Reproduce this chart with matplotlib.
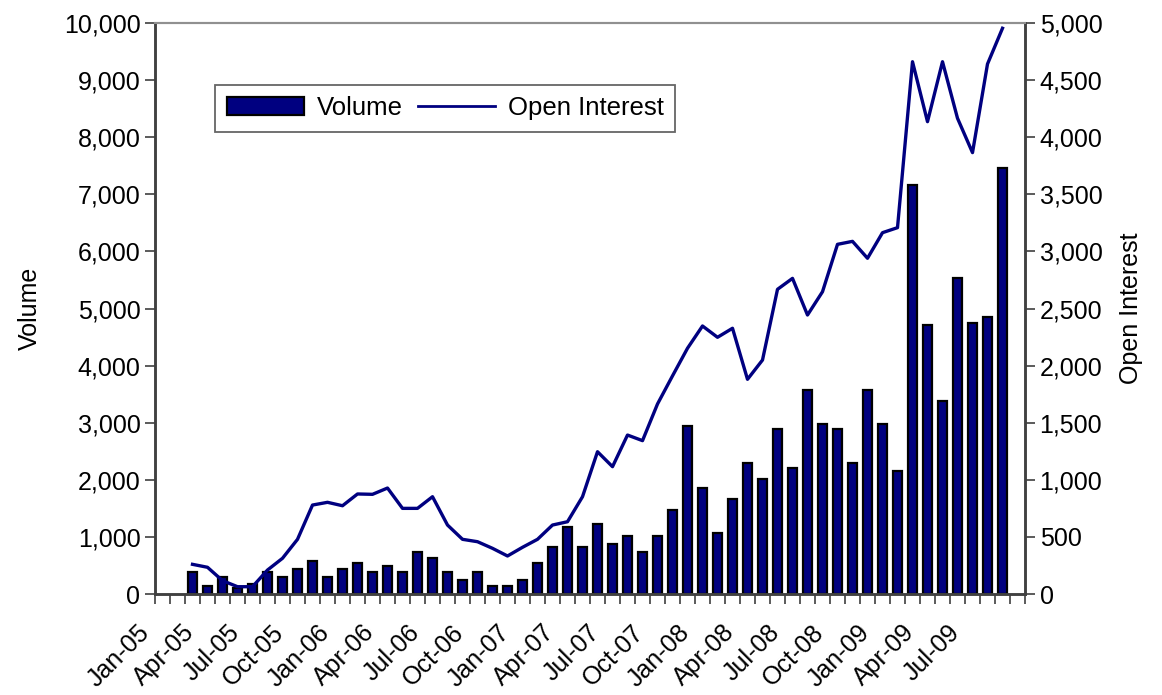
import numpy as np
import matplotlib
matplotlib.use('Agg')
import matplotlib.pyplot as plt
from matplotlib.ticker import FuncFormatter
from matplotlib.transforms import ScaledTranslation
from matplotlib.patches import Patch
from matplotlib.lines import Line2D

plt.rcParams['font.family'] = ['Liberation Sans', 'DejaVu Sans']

# monthly categories Jan-05 .. Oct-09
months = ['Jan', 'Feb', 'Mar', 'Apr', 'May', 'Jun', 'Jul', 'Aug', 'Sep', 'Oct', 'Nov', 'Dec']
categories = ['%s-%02d' % (months[i % 12], 5 + i // 12) for i in range(58)]

# data Mar-05 .. Sep-09 (first two and last months empty)
volume = [None, None,
          390, 140, 290, 100, 170, 390, 290, 440, 580, 290,
          440, 535, 390, 490, 390, 730, 630, 390, 245, 390,
          140, 140, 245, 535, 830, 1170, 830, 1220, 875, 1020,
          730, 1020, 1465, 2940, 1860, 1070, 1660, 2300, 2010, 2895,
          2200, 3570, 2980, 2890, 2300, 3570, 2980, 2150, 7160, 4710,
          3380, 5540, 4750, 4855, 7455,
          None]
open_interest = [None, None,
                 260, 234, 117, 64, 64, 210, 313, 479, 779, 803,
                 773, 876, 873, 928, 750, 750, 852, 604, 479, 458,
                 400, 333, 409, 479, 604, 633, 852, 1246, 1115, 1392,
                 1343, 1664, 1910, 2152, 2347, 2248, 2327, 1880, 2049, 2668,
                 2764, 2443, 2647, 3062, 3088, 2940, 3164, 3208, 4661, 4136,
                 4661, 4166, 3865, 4641, 4954,
                 None]

x = np.arange(len(categories))
vol = np.array([np.nan if v is None else v for v in volume], dtype=float)
oi = np.array([np.nan if v is None else v for v in open_interest], dtype=float)

navy = '#000080'
fig = plt.figure(figsize=(11.62, 6.95), dpi=100)
ax = fig.add_axes([0.1334, 0.1453, 0.7487, 0.8216])
ax2 = ax.twinx()

ax.bar(x, vol, width=0.58, color=navy, edgecolor='black', linewidth=1.6, zorder=2)
ax2.plot(x, oi, color=navy, linewidth=2.4, zorder=3)

ax.set_xlim(-0.5, len(categories) - 0.5)
ax.set_ylim(0, 10000)
ax2.set_ylim(0, 5000)
ax.set_yticks(np.arange(0, 10001, 1000))
ax2.set_yticks(np.arange(0, 5001, 500))
comma = FuncFormatter(lambda v, p: '{:,.0f}'.format(v))
ax.yaxis.set_major_formatter(comma)
ax2.yaxis.set_major_formatter(comma)

# tick marks between categories, labels every 3rd month
ax.set_xticks(np.arange(-0.5, len(categories), 1.0))
ax.set_xticklabels([])
lab_pos = np.arange(0, 55, 3)
ax.set_xticks(lab_pos, minor=True)
ax.set_xticklabels([categories[i] for i in lab_pos], minor=True,
                   rotation=45, ha='right', va='center', rotation_mode='anchor')
ax.tick_params(axis='x', which='major', direction='out', length=7, width=1.2, color='#404040')
ax.tick_params(axis='x', which='minor', length=0, pad=25, labelsize=18)
for lbl in ax.get_xticklabels(minor=True):
    lbl.set_transform(lbl.get_transform() + ScaledTranslation(-0.17, 0, fig.dpi_scale_trans))

ax.tick_params(axis='y', direction='out', length=7, width=1.2, labelsize=18, color='#404040')
ax2.tick_params(axis='y', direction='out', length=7, width=1.2, labelsize=18, color='#404040')

for a in (ax, ax2):
    for s in ['left', 'bottom', 'right']:
        a.spines[s].set_color('#404040')
        a.spines[s].set_linewidth(1.8)
    a.spines['top'].set_color('#909090')
    a.spines['top'].set_linewidth(1.5)

ax.set_ylabel('Volume', fontsize=18, labelpad=16)
ax2.set_ylabel('Open Interest', fontsize=18, labelpad=12)

handles = [Patch(facecolor=navy, edgecolor='black', linewidth=1.6),
           Line2D([0], [0], color=navy, linewidth=2.0)]
leg = ax2.legend(handles, ['Volume', 'Open Interest'], ncol=2, loc='upper left',
                 bbox_to_anchor=(0.069, 0.892), fontsize=18.5, frameon=True, fancybox=False,
                 handlelength=3.0, handletextpad=0.5, columnspacing=0.6,
                 borderpad=0.45, borderaxespad=0)
leg.get_frame().set_edgecolor('#404040')
leg.get_frame().set_linewidth(1.3)

plt.savefig('out.png', dpi=100)
